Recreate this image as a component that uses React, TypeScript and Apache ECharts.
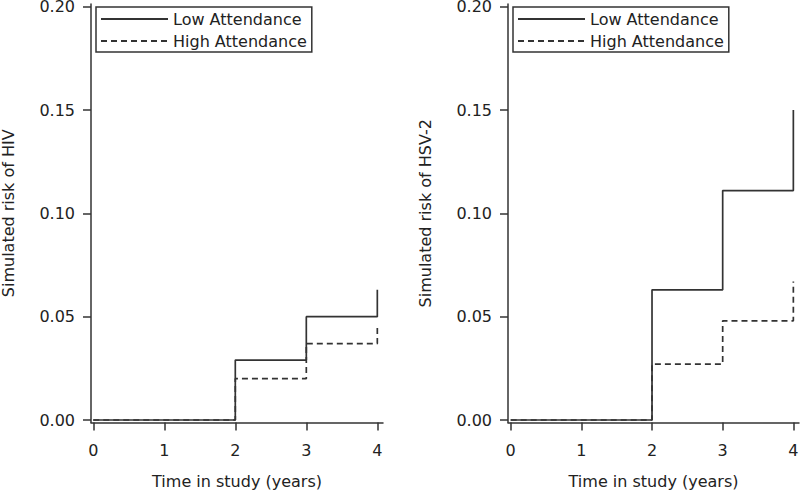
import React, { useEffect, useRef } from "react";
import * as echarts from "echarts";

const xTicks = [0, 1, 2, 3, 4];
const yTicks = [0, 0.05, 0.1, 0.15, 0.2];
const stepTimes = [0, 2, 3, 4];
const hivLow = [0, 0.029, 0.05, 0.063];
const hivHigh = [0, 0.02, 0.037, 0.045];
const hsvLow = [0, 0.063, 0.111, 0.15];
const hsvHigh = [0, 0.027, 0.048, 0.067];
const seriesNames = ["Low Attendance", "High Attendance"];
const panelTitles = ["Simulated risk of HIV", "Simulated risk of HSV-2"];
const xTitle = "Time in study (years)";

const FONT = "DejaVu Sans";
const INK = "#222";
const LINE = "#333";

function pairs(values: number[]) {
  return stepTimes.map((t, i) => [t, values[i]]);
}

export default function App() {
  const ref = useRef<HTMLDivElement>(null);
  useEffect(() => {
    if (!ref.current) return;
    const chart = echarts.init(ref.current, undefined, { renderer: "svg" });
    const grids = [
      { left: 91, top: 4, width: 292, height: 418.5, containLabel: false, outerBoundsMode: "none" },
      { left: 508, top: 4, width: 291, height: 418.5, containLabel: false, outerBoundsMode: "none" },
    ];
    const xMins = [-0.032, -0.038];
    const xAxis = grids.map((_, i) => ({
      type: "value",
      gridIndex: i,
      min: xMins[i],
      max: 4.08,
      name: xTitle,
      nameLocation: "middle",
      nameGap: 51,
      nameTextStyle: { fontFamily: FONT, fontSize: 16, color: INK },
      axisLine: { show: true, onZero: false, lineStyle: { color: LINE, width: 1.5 } },
      axisTick: { show: true, length: 8, customValues: xTicks, lineStyle: { color: LINE, width: 1.5 } },
      axisLabel: {
        customValues: xTicks,
        margin: 20,
        fontFamily: FONT,
        fontSize: 16,
        color: INK,
        formatter: (v: number) => String(v),
      },
      splitLine: { show: false },
    }));
    const yAxis = grids.map((_, i) => ({
      type: "value",
      gridIndex: i,
      min: -0.0012,
      max: 0.2013,
      name: panelTitles[i],
      nameLocation: "middle",
      nameGap: 75,
      nameRotate: 90,
      nameTextStyle: { fontFamily: FONT, fontSize: 16, color: INK },
      axisLine: { show: true, onZero: false, lineStyle: { color: LINE, width: 1.5 } },
      axisTick: { show: true, length: 8, customValues: yTicks, lineStyle: { color: LINE, width: 1.5 } },
      axisLabel: {
        customValues: yTicks,
        margin: 16,
        fontFamily: FONT,
        fontSize: 16,
        color: INK,
        formatter: (v: number) => v.toFixed(2),
      },
      splitLine: { show: false },
    }));
    const panels = [
      [hivLow, hivHigh],
      [hsvLow, hsvHigh],
    ];
    const series: any[] = [];
    panels.forEach((pair, i) => {
      pair.forEach((vals, k) => {
        series.push({
          type: "line",
          name: seriesNames[k],
          xAxisIndex: i,
          yAxisIndex: i,
          step: "end",
          symbol: "none",
          showSymbol: false,
          data: pairs(vals),
          z: k === 0 ? 3 : 2,
          lineStyle: {
            color: LINE,
            width: 1.7,
            type: k === 0 ? "solid" : [6, 4],
          },
          itemStyle: { color: LINE },
        });
      });
    });
    const legendLefts = [96, 513];
    const legend = legendLefts.map((l) => ({
      left: l,
      top: 7,
      orient: "vertical",
      data: seriesNames,
      itemWidth: 67,
      itemHeight: 14,
      itemGap: 6,
      padding: [4, 5, 3, 4],
      borderColor: LINE,
      borderWidth: 1.5,
      selectedMode: false,
      itemStyle: { opacity: 0 },
      textStyle: { fontFamily: FONT, fontSize: 16, color: INK, lineHeight: 16 },
    }));
    chart.setOption({
      animation: false,
      backgroundColor: "#fff",
      grid: grids,
      xAxis,
      yAxis,
      legend,
      series,
    });
    return () => chart.dispose();
  }, []);
  return (
    <div
      ref={ref}
      style={{ position: "fixed", left: 0, top: 0, width: 800, height: 491, background: "#fff" }}
    />
  );
}
